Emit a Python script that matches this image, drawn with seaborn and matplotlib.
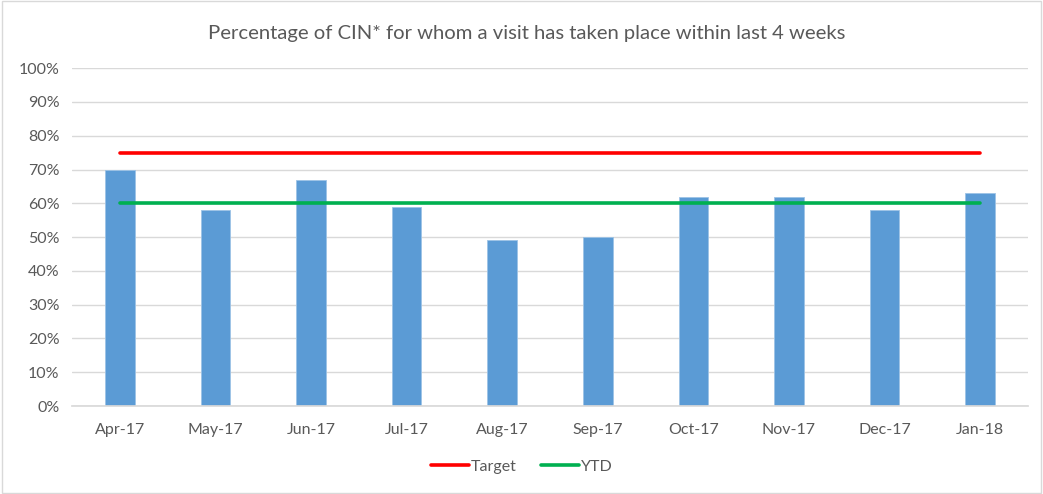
import matplotlib

matplotlib.use("Agg")
import matplotlib.pyplot as plt
import numpy as np
import pandas as pd
import seaborn as sns
from matplotlib.patches import Rectangle
from matplotlib.ticker import FuncFormatter, MultipleLocator

# -- Data ----------------------------------------------------------------------

months = ["Apr-17", "May-17", "Jun-17", "Jul-17", "Aug-17",
          "Sep-17", "Oct-17", "Nov-17", "Dec-17", "Jan-18"]
visit_pct = [0.70, 0.58, 0.67, 0.59, 0.49, 0.50, 0.62, 0.62, 0.58, 0.63]
target = [0.75] * len(months)
ytd = [0.60] * len(months)

# -- Plot ----------------------------------------------------------------------

sns.set_theme(style="white")
plt.rcParams["font.family"] = ["Lato", "DejaVu Sans"]

df = pd.DataFrame({"month": months, "pct": visit_pct})

fig = plt.figure(figsize=(10.43, 4.94), dpi=100)
ax = fig.add_axes([0.069, 0.178, 0.9166, 0.684])

sns.barplot(data=df, x="month", y="pct", color="#5B9BD5", width=0.31,
            saturation=1, edgecolor="#9DC3E6", linewidth=0.6, ax=ax, zorder=2)

x = np.arange(len(months))
ax.plot(x, target, color="#FF0000", linewidth=2.6, label="Target", zorder=3,
        solid_capstyle="round")
ax.plot(x, ytd, color="#00B050", linewidth=2.6, label="YTD", zorder=3,
        solid_capstyle="round")

ax.set_xlim(-0.5, len(months) - 0.5)
ax.set_ylim(0, 1)
ax.yaxis.set_major_locator(MultipleLocator(0.1))
ax.yaxis.set_major_formatter(FuncFormatter(lambda v, _: f"{v * 100:.0f}%"))
ax.grid(axis="y", color="#d9d9d9", linewidth=1, zorder=0)
ax.set_axisbelow(True)
ax.set_xlabel("")
ax.set_ylabel("")
for side in ("top", "right", "left"):
    ax.spines[side].set_visible(False)
ax.spines["bottom"].set_color("#d9d9d9")
ax.tick_params(axis="both", length=0, labelsize=11.5, labelcolor="#595959")
ax.tick_params(axis="x", pad=12)
ax.tick_params(axis="y", pad=9)

fig.text(0.505, 0.933, "Percentage of CIN* for whom a visit has taken place within last 4 weeks",
         ha="center", va="center", fontsize=14.6, color="#595959")

fig.legend(loc="center", bbox_to_anchor=(0.5, 0.055), ncol=2, frameon=False,
           fontsize=11.5, labelcolor="#595959", handlelength=2.4,
           handletextpad=0.1, columnspacing=1.5)

fig.patches.append(Rectangle((0.002, 0.003), 0.996, 0.994, transform=fig.transFigure,
                             fill=False, edgecolor="#d9d9d9", linewidth=1))

fig.savefig("out.png", dpi=100)
